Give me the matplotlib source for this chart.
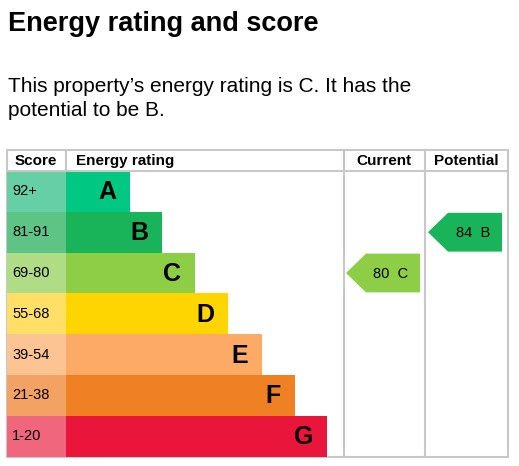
import matplotlib
matplotlib.use("Agg")
import matplotlib.pyplot as plt
from matplotlib.patches import Rectangle, Polygon

bands = ["A", "B", "C", "D", "E", "F", "G"]
ranges = ["92+", "81-91", "69-80", "55-68", "39-54", "21-38", "1-20"]
lower = [92, 81, 69, 55, 39, 21, 1]
bar_ends = [130, 162, 195, 228, 262, 295, 327]
colors = ["#00c781", "#19b459", "#8dce46", "#ffd500", "#fcaa65", "#ef8023", "#e9153b"]
score_colors = ["#66cfa6", "#5ec486", "#b1dc86", "#ffe066", "#fcc493", "#f3a264", "#f0667c"]
current = 80
potential = 84

def band_of(s):
    for i, lo in enumerate(lower):
        if s >= lo:
            return i
    return len(lower) - 1

fig = plt.figure(figsize=(5.19, 4.66), dpi=100)
ax = fig.add_axes([0, 0, 1, 1])
ax.set_xlim(0, 519); ax.set_ylim(466, 0); ax.axis("off")
ff = "Liberation Sans"

ax.text(8, 24, "Energy rating and score", fontsize=19.5, fontweight="bold", family=ff, va="center")
ax.text(8, 86, "This property\u2019s energy rating is C. It has the", fontsize=15, family=ff, va="center")
ax.text(8, 111, "potential to be B.", fontsize=15, family=ff, va="center")

top, hdr, rh = 150, 171, 40.8
L, R, sc, cur, pot = 7, 508, 66, 344, 425
bottom = hdr + rh * 7
gc = "#c8c8c8"
ax.add_patch(Rectangle((L, top), R - L, bottom - top, fill=False, ec=gc, lw=1.5))
ax.plot([L, R], [hdr, hdr], color=gc, lw=1.5)
for x in (sc, cur, pot):
    ax.plot([x, x], [top, bottom if x != sc else hdr], color=gc, lw=1.5)
ax.text(36, 161, "Score", fontsize=11, fontweight="bold", family=ff, ha="center", va="center")
ax.text(76, 161, "Energy rating", fontsize=11, fontweight="bold", family=ff, va="center")
ax.text(384, 161, "Current", fontsize=11, fontweight="bold", family=ff, ha="center", va="center")
ax.text(466, 161, "Potential", fontsize=11, fontweight="bold", family=ff, ha="center", va="center")

for i, b in enumerate(bands):
    y = hdr + i * rh
    ax.add_patch(Rectangle((L, y), sc - L, rh, color=score_colors[i], lw=0))
    ax.add_patch(Rectangle((sc, y), bar_ends[i] - sc, rh, color=colors[i], lw=0))
    ax.text(12, y + rh / 2, ranges[i], fontsize=10.5, family=ff, va="center")
    ax.text(bar_ends[i] - 14, y + rh / 2 + 1, b, fontsize=18, fontweight="bold", family=ff,
            ha="right", va="center")

def arrow(x0, x1, score):
    i = band_of(score)
    y0 = hdr + i * rh + 1; y1 = y0 + rh - 2; ym = (y0 + y1) / 2
    ax.add_patch(Polygon([(x0, ym), (x0 + 20, y0), (x1, y0), (x1, y1), (x0 + 20, y1)],
                         closed=True, color=colors[i], lw=0))
    ax.text((x0 + x1) / 2 + 8, ym + 1, f"{score}  {bands[i]}", fontsize=10.5, family=ff,
            ha="center", va="center")

arrow(346, 420, current)
arrow(428, 502, potential)
fig.savefig("out.png", dpi=100)
